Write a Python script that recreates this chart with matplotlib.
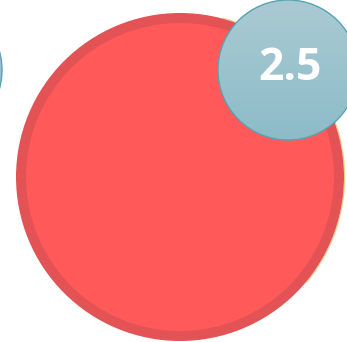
import numpy as np
import matplotlib
matplotlib.use("Agg")
import matplotlib.pyplot as plt
from matplotlib.patches import Circle, Arc
from matplotlib.colors import LinearSegmentedColormap

# Bubble data (positions in chart units, radius = bubble size)
bubble_names = ["left", "main", "value"]
bubble_x = [-68, 180, 288]
bubble_y = [70, 177, 70]
bubble_r = [70, 164, 70]
bubble_labels = ["", "", "2.5"]
bubble_kind = ["teal", "red", "teal"]

fig = plt.figure(figsize=(3.47, 3.42), dpi=100)
ax = fig.add_axes([0, 0, 1, 1])
ax.set_xlim(0, 347)
ax.set_ylim(342, 0)
ax.set_aspect("equal")
ax.axis("off")

grad = np.linspace(0, 1, 256).reshape(-1, 1)
teal_cmap = LinearSegmentedColormap.from_list("teal", ["#AACAD3", "#8CBCC8"])

order = [1, 0, 2]
for i in order:
    x, y, r = bubble_x[i], bubble_y[i], bubble_r[i]
    if bubble_kind[i] == "red":
        ax.add_patch(Arc((x, y), 2 * r + 1.2, 2 * r + 1.2, theta1=-75, theta2=40,
                         edgecolor="#F3D08A", linewidth=0.8, zorder=1))
        ax.add_patch(Circle((x, y), r, facecolor="#E35254", edgecolor="none", zorder=2))
        ax.add_patch(Circle((x, y), r - 10, facecolor="#FF5A59", edgecolor="none", zorder=3))
    else:
        im = ax.imshow(grad, cmap=teal_cmap, extent=(x - r, x + r, y + r, y - r),
                       aspect="auto", zorder=4, interpolation="bilinear")
        clip = Circle((x, y), r, transform=ax.transData, facecolor="none")
        ax.add_patch(clip)
        clip.set_visible(False)
        im.set_clip_path(clip)
        ax.add_patch(Circle((x, y), r, facecolor="none", edgecolor="#58A3B1",
                            linewidth=1.0, zorder=5))
    if bubble_labels[i]:
        ax.text(x + 2, y - 1, bubble_labels[i], color="white", fontsize=32,
                fontweight="bold", family=["Open Sans", "DejaVu Sans"],
                ha="center", va="center", zorder=6)

ax.set_xlim(0, 347)
ax.set_ylim(342, 0)
fig.savefig("out.png", dpi=100)
